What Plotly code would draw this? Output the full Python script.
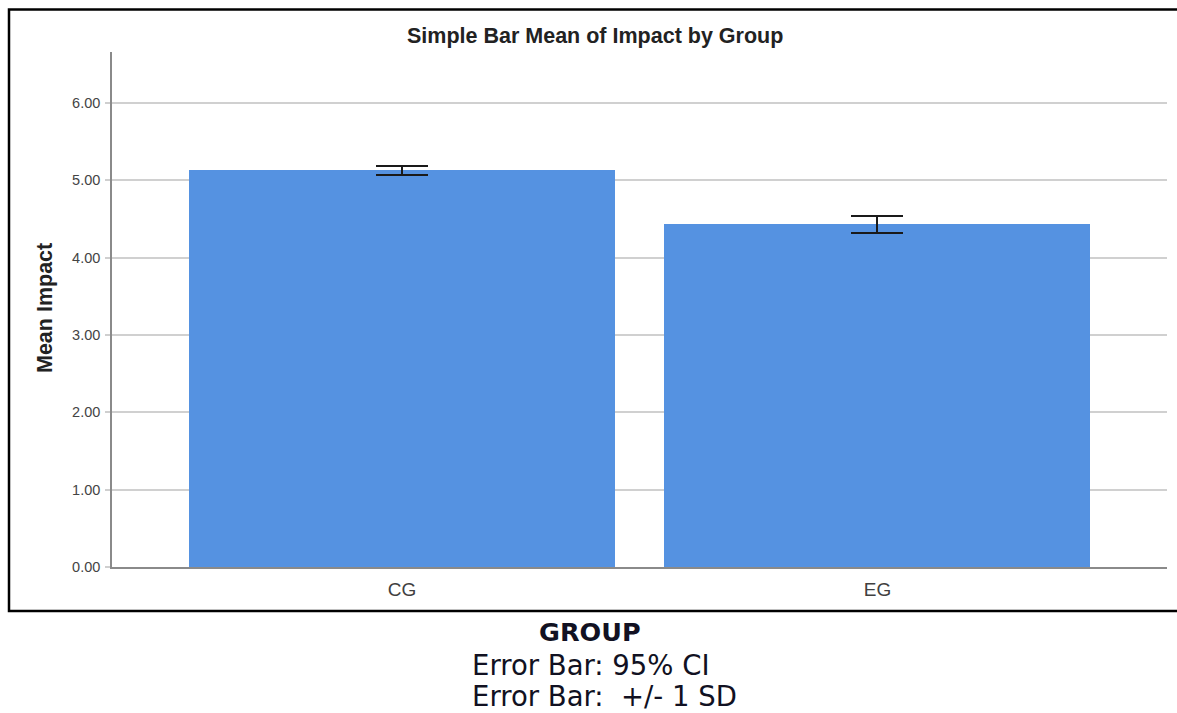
import plotly.graph_objects as go

# Group means and error half-widths
groups = ["CG", "EG"]
mean_impact = [5.13, 4.43]
error_half = [0.06, 0.115]
y_ticks = [0, 1, 2, 3, 4, 5, 6]
y_tick_labels = ["0.00", "1.00", "2.00", "3.00", "4.00", "5.00", "6.00"]

W, H = 1177, 713
L, R, T, B = 112, 10, 52, 146
pw = W - L - R
ph = H - T - B


def px(x):
    return (x - L) / pw


def py(y):
    return (H - B - y) / ph


positions = list(range(len(groups)))

fig = go.Figure()
fig.add_trace(go.Bar(
    x=positions,
    y=mean_impact,
    width=0.896,
    marker=dict(color="#5592E1", line=dict(width=0)),
    error_y=dict(type="data", array=error_half, visible=True,
                 color="#1a1a1a", thickness=2, width=26),
    hoverinfo="skip",
))

fig.update_layout(
    width=W, height=H,
    margin=dict(l=L, r=R, t=T, b=B),
    paper_bgcolor="white",
    plot_bgcolor="white",
    showlegend=False,
    bargap=0,
    font=dict(family="Liberation Sans, Arial", color="#333333"),
)

fig.update_xaxes(
    range=[-0.61, 1.609],
    tickmode="array", tickvals=positions, ticktext=groups,
    tickfont=dict(size=19, color="#404040"),
    showgrid=False, zeroline=False,
    showline=True, linecolor="#8a8a8a", linewidth=1.5,
    ticks="", ticklabelstandoff=4,
)
fig.update_yaxes(
    range=[0, 6.66],
    tickmode="array", tickvals=y_ticks, ticktext=y_tick_labels,
    tickfont=dict(size=14.5, color="#444444"),
    showgrid=True, gridcolor="#d0d0d0", gridwidth=1.5,
    zeroline=False,
    showline=True, linecolor="#8a8a8a", linewidth=1.5,
    ticks="outside", ticklen=5, tickcolor="#cfcfcf", tickwidth=1.5,
    ticklabelstandoff=2,
)

# Outer frame around the chart panel
fig.add_shape(type="rect", xref="paper", yref="paper",
              x0=px(9), x1=px(1182), y0=py(611), y1=py(9.5),
              line=dict(color="black", width=2.5), fillcolor="rgba(0,0,0,0)",
              layer="above")

fig.add_annotation(text="<b>Simple Bar Mean of Impact by Group</b>",
                   xref="paper", yref="paper", x=px(595), y=py(35.5),
                   showarrow=False, font=dict(size=21.5, color="#222222",
                                              family="Liberation Sans, Arial"),
                   xanchor="center", yanchor="middle")

fig.add_annotation(text="<b>Mean Impact</b>", textangle=-90,
                   xref="paper", yref="paper", x=px(45), y=py(308),
                   showarrow=False, font=dict(size=21.5, color="#222222",
                                              family="Liberation Sans, Arial"),
                   xanchor="center", yanchor="middle")

caption_font = "DejaVu Sans, Verdana"
fig.add_annotation(text="<b>GROUP</b>", xref="paper", yref="paper",
                   x=px(590), y=py(632), showarrow=False,
                   font=dict(size=25.5, color="#111122", family=caption_font),
                   xanchor="center", yanchor="middle")
fig.add_annotation(text="Error Bar: 95% CI", xref="paper", yref="paper",
                   x=px(591), y=py(665), showarrow=False,
                   font=dict(size=27.5, color="#111122", family=caption_font),
                   xanchor="center", yanchor="middle")
fig.add_annotation(text="Error Bar:  +/- 1 SD", xref="paper", yref="paper",
                   x=px(604), y=py(696), showarrow=False,
                   font=dict(size=27.5, color="#111122", family=caption_font),
                   xanchor="center", yanchor="middle")

fig.write_html("out.html")
